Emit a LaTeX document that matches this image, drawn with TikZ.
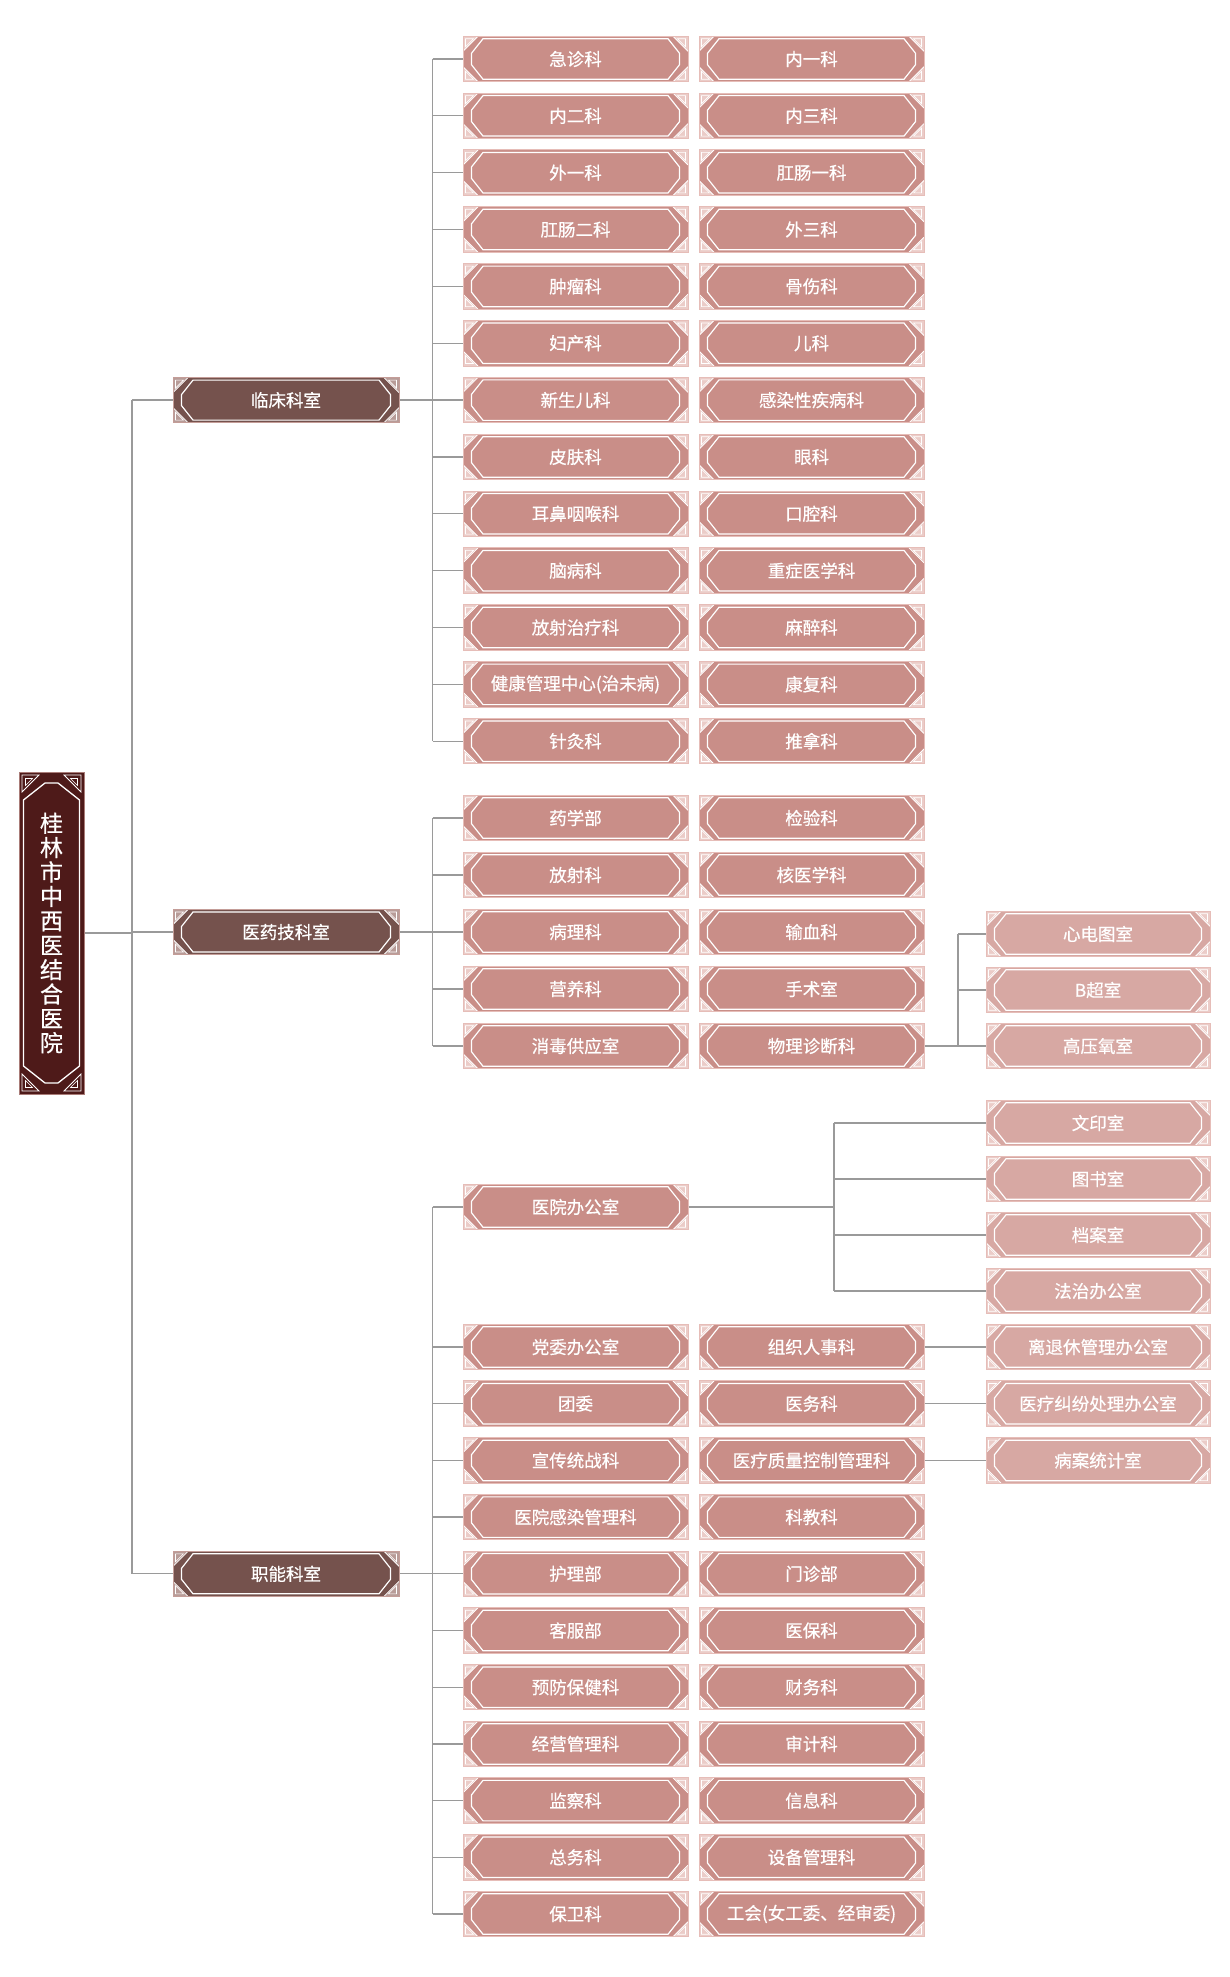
\documentclass[tikz,border=0pt]{standalone}
\usepackage{fontspec}
\newfontfamily\cjk{Noto Sans CJK SC}[FakeBold=0.6]
\usetikzlibrary{calc}
\definecolor{rootc}{HTML}{4E1A19}
\definecolor{lonec}{HTML}{75524D}
\definecolor{ltwoc}{HTML}{C98E88}
\definecolor{lthreec}{HTML}{D7A8A3}
\definecolor{edgec}{HTML}{E6BDB8}
\definecolor{tric}{HTML}{EBCCC8}
\definecolor{trione}{HTML}{B89C98}
\definecolor{linec}{HTML}{9A9A9A}

\newcommand\hdeco[1]{%
  \coordinate (NW) at (path picture bounding box.north west);
  \coordinate (NE) at (path picture bounding box.north east);
  \coordinate (SW) at (path picture bounding box.south west);
  \coordinate (SE) at (path picture bounding box.south east);
  \draw[white, line width=1.2pt, line join=miter]
    ($(NW)+(20,-2.5)$) -- ($(NE)+(-20,-2.5)$) -- ($(NE)+(-8.5,-17)$) --
    ($(SE)+(-8.5,17)$) -- ($(SE)+(-20,2.5)$) -- ($(SW)+(20,2.5)$) --
    ($(SW)+(8.5,17)$) -- ($(NW)+(8.5,-17)$) -- cycle;
  \foreach \c/\sx/\sy in {NW/1/-1, NE/-1/-1, SW/1/1, SE/-1/1}{
    \fill[#1] (\c) -- ($(\c)+(15*\sx,0)$) -- ($(\c)+(0,15*\sy)$) -- cycle;
    \draw[white, line width=0.8pt] ($(\c)+(15*\sx,0)$) -- ($(\c)+(0,15*\sy)$);
    \draw[white, line width=0.6pt] ($(\c)+(2.5*\sx,2.5*\sy)$) -- ($(\c)+(10.5*\sx,2.5*\sy)$) -- ($(\c)+(2.5*\sx,10.5*\sy)$) -- cycle;
  }%
}
\newcommand\vdeco{%
  \coordinate (NW) at (path picture bounding box.north west);
  \coordinate (NE) at (path picture bounding box.north east);
  \coordinate (SW) at (path picture bounding box.south west);
  \coordinate (SE) at (path picture bounding box.south east);
  \draw[white, line width=1.3pt, line join=miter]
    ($(NW)+(4.5,-28)$) -- ($(NW)+(26,-11)$) -- ($(NE)+(-26,-11)$) --
    ($(NE)+(-4.5,-28)$) -- ($(SE)+(-4.5,28)$) -- ($(SE)+(-26,11)$) --
    ($(SW)+(26,11)$) -- ($(SW)+(4.5,28)$) -- cycle;
  \foreach \c/\sx/\sy in {NW/1/-1, NE/-1/-1, SW/1/1, SE/-1/1}{
    \draw[white, line width=0.8pt] ($(\c)+(3*\sx,3*\sy)$) -- ($(\c)+(20*\sx,3*\sy)$) -- ($(\c)+(3*\sx,20*\sy)$) -- cycle;
    \draw[white, line width=0.6pt] ($(\c)+(6.5*\sx,6.5*\sy)$) -- ($(\c)+(13.5*\sx,6.5*\sy)$) -- ($(\c)+(6.5*\sx,13.5*\sy)$) -- cycle;
  }%
}

\tikzset{
  boxbase/.style={rectangle, inner sep=0pt, text=white, line width=1pt,
    font=\cjk\fontsize{17.5}{20}\selectfont},
  ltwo/.style={boxbase, minimum width=225, minimum height=45.5, fill=ltwoc,
    draw=edgec, path picture={\hdeco{tric}}},
  lthree/.style={boxbase, minimum width=224, minimum height=45.5, fill=lthreec,
    draw=edgec, path picture={\hdeco{tric}}},
  lone/.style={boxbase, minimum width=226, minimum height=45, fill=lonec,
    draw=edgec!70!lonec, path picture={\hdeco{trione}}},
  rootbox/.style={rectangle, inner sep=0pt, text=white, line width=1pt,
    minimum width=65, minimum height=322, fill=rootc, draw=edgec!60!rootc,
    align=center, font=\cjk\fontsize{23}{24.4}\selectfont,
    path picture={\vdeco}},
  conn/.style={draw=linec, line width=1.3pt}
}

\begin{document}
\begin{tikzpicture}[x=1pt,y=1pt]
\fill[white] (0,0) rectangle (1230,-1977);
\useasboundingbox (0,0) rectangle (1230,-1977);

\coordinate (trunk) at (132,0);
\coordinate (busA) at (432.5,0);
\coordinate (busB) at (958,0);
\coordinate (busC) at (834,0);

% root
\node[rootbox] (root) at (51.5,-933) {桂\\林\\市\\中\\西\\医\\结\\合\\医\\院};

% level one
\node[lone] (k1) at (286,-400.1) {临床科室};
\node[lone] (k2) at (286,-932) {医药技科室};
\node[lone] (k3) at (286,-1573.8) {职能科室};

% clinical
\foreach [count=\i from 0] \t in {急诊科,内二科,外一科,肛肠二科,肿瘤科,妇产科,新生儿科,皮肤科,耳鼻咽喉科,脑病科,放射治疗科,健康管理中心(治未病),针灸科}{
  \node[ltwo] (a\i) at (575.5,{-(59+56.85*\i)}) {\t};
}
\foreach [count=\i from 0] \t in {内一科,内三科,肛肠一科,外三科,骨伤科,儿科,感染性疾病科,眼科,口腔科,重症医学科,麻醉科,康复科,推拿科}{
  \node[ltwo] (b\i) at (811.5,{-(59+56.85*\i)}) {\t};
}

% medical technology
\foreach [count=\i from 0] \t in {药学部,放射科,病理科,营养科,消毒供应室}{
  \node[ltwo] (m\i) at (575.5,{-(818+57*\i)}) {\t};
}
\foreach [count=\i from 0] \t in {检验科,核医学科,输血科,手术室,物理诊断科}{
  \node[ltwo] (n\i) at (811.5,{-(818+57*\i)}) {\t};
}
\foreach [count=\i from 0] \t in {心电图室,B超室,高压氧室}{
  \node[lthree] (p\i) at (1098,{-(934+56*\i)}) {\t};
}

% functional
\node[ltwo] (o) at (575.5,-1207) {医院办公室};
\foreach [count=\i from 0] \t in {文印室,图书室,档案室,法治办公室}{
  \node[lthree] (q\i) at (1098,{-(1123+56*\i)}) {\t};
}
\foreach [count=\i from 0] \t in {党委办公室,团委,宣传统战科,医院感染管理科,护理部,客服部,预防保健科,经营管理科,监察科,总务科,保卫科}{
  \node[ltwo] (f\i) at (575.5,{-(1347+56.7*\i)}) {\t};
}
\foreach [count=\i from 0] \t in {组织人事科,医务科,医疗质量控制管理科,科教科,门诊部,医保科,财务科,审计科,信息科,设备管理科,工会(女工委、经审委)}{
  \node[ltwo] (g\i) at (811.5,{-(1347+56.7*\i)}) {\t};
}
\foreach [count=\i from 0] \t in {离退休管理办公室,医疗纠纷处理办公室,病案统计室}{
  \node[lthree] (r\i) at (1098,{-(1347+56.7*\i)}) {\t};
}

% trunk connectors
\draw[conn] (root.east) -- (root.east -| trunk);
\draw[conn] (trunk |- k1.west) -- (trunk |- k3.west);
\foreach \k in {k1,k2,k3}{
  \draw[conn] (trunk |- \k.west) -- (\k.west);
  \draw[conn] (\k.east) -- (\k.east -| busA);
}

% clinical bus
\draw[conn] (busA |- a0.west) -- (busA |- a12.west);
\foreach \i in {0,...,12}{ \draw[conn] (busA |- a\i.west) -- (a\i.west); }

% med-tech bus
\draw[conn] (busA |- m0.west) -- (busA |- m4.west);
\foreach \i in {0,...,4}{ \draw[conn] (busA |- m\i.west) -- (m\i.west); }
\draw[conn] (n4.east) -- (n4.east -| busB);
\draw[conn] (busB |- p0.west) -- (busB |- p2.west);
\foreach \i in {0,1,2}{ \draw[conn] (busB |- p\i.west) -- (p\i.west); }

% functional bus
\draw[conn] (busA |- o.west) -- (busA |- f10.west);
\draw[conn] (busA |- o.west) -- (o.west);
\foreach \i in {0,...,10}{ \draw[conn] (busA |- f\i.west) -- (f\i.west); }
\draw[conn] (o.east) -- (o.east -| busC);
\draw[conn] (busC |- q0.west) -- (busC |- q3.west);
\foreach \i in {0,...,3}{ \draw[conn] (busC |- q\i.west) -- (q\i.west); }
\foreach \i in {0,1,2}{ \draw[conn] (g\i.east) -- (r\i.west); }
\end{tikzpicture}
\end{document}
